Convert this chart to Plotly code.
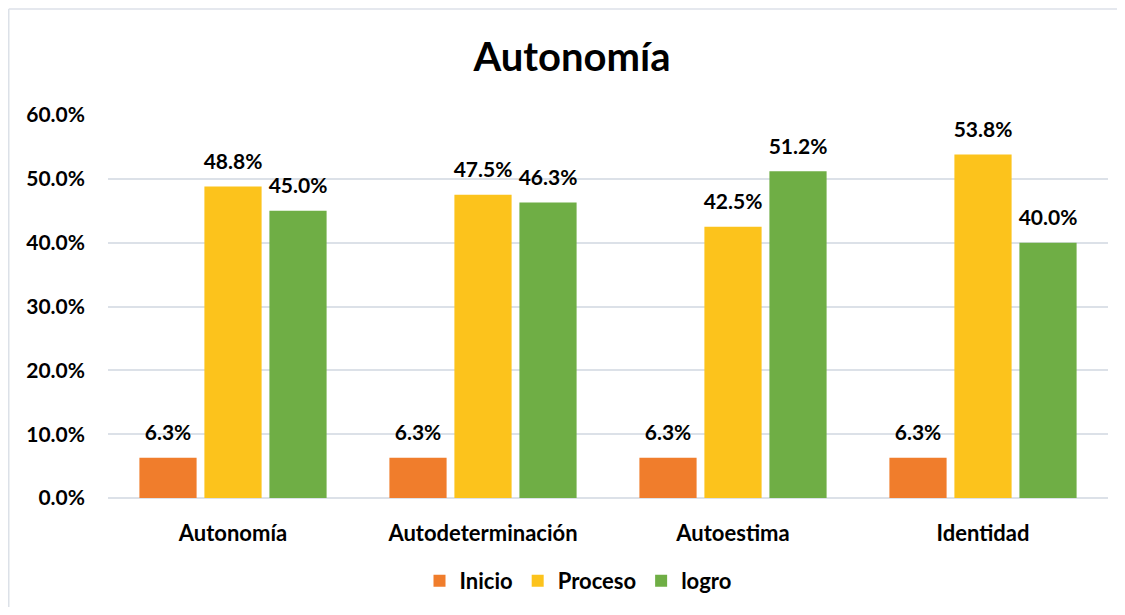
import plotly.graph_objects as go

categories = ["Autonomía", "Autodeterminación", "Autoestima", "Identidad"]
inicio = [0.063, 0.063, 0.063, 0.063]
proceso = [0.488, 0.475, 0.425, 0.538]
logro = [0.450, 0.463, 0.512, 0.400]
series_names = ["Inicio", "Proceso", "logro"]
series_colors = ["#F07D2C", "#FCC31C", "#6FAE45"]
y_ticks = [0, 0.1, 0.2, 0.3, 0.4, 0.5, 0.6]

FONT = "Lato, 'Open Sans', sans-serif"
OFF = 8  # page body margin
W, H = 1125 - 2 * OFF, 615 - 2 * OFF
ML = 108 - OFF
MR = W - (1108 - OFF)
MT = 115 - OFF
MB = H - (498 - OFF)

fig = go.Figure()
for name, vals, col in zip(series_names, [inicio, proceso, logro], series_colors):
    fig.add_trace(go.Bar(
        name=name, x=categories, y=vals, offsetgroup=name,
        marker=dict(color=col, line=dict(width=0)),
        hoverinfo="skip",
    ))
for name, vals in zip(series_names, [inicio, proceso, logro]):
    fig.add_trace(go.Scatter(
        x=categories, y=vals, offsetgroup=name, mode="markers+text",
        marker=dict(size=18, opacity=0),
        text=[f"<b>{v:.1%}</b>" for v in vals], textposition="top center",
        textfont=dict(family=FONT, size=21, color="#000000", weight="bold"),
        showlegend=False, cliponaxis=False, hoverinfo="skip",
    ))

pw = W - ML - MR
ph = H - MT - MB
bx0 = (0.75 - ML) / pw
by1 = (H - MB - (9 - OFF)) / ph
fig.add_shape(type="line", xref="paper", yref="paper",
              x0=bx0, x1=bx0, y0=(-MB) / ph, y1=by1,
              line=dict(color="#DCE1E8", width=1.5), layer="below")
fig.add_shape(type="line", xref="paper", yref="paper",
              x0=bx0, x1=(W - ML) / pw, y0=by1, y1=by1,
              line=dict(color="#DCE1E8", width=1.5), layer="below")

fig.update_layout(
    width=W, height=H,
    margin=dict(l=ML, r=MR, t=MT, b=MB),
    paper_bgcolor="white", plot_bgcolor="white",
    barmode="group", bargap=0.22, bargroupgap=0.12,
    scattermode="group", scattergap=0.22,
    title=dict(text="<b>Autonomía</b>", x=(572 - OFF) / W, xref="container", xanchor="center",
               y=1 - (57 - OFF) / H, yref="container", yanchor="middle",
               font=dict(family=FONT, size=40, color="#000000")),
    legend=dict(orientation="h", x=(578 - OFF) / W, xref="container", xanchor="center",
                y=1 - (581 - OFF) / H, yref="container", yanchor="middle",
                font=dict(family=FONT, size=22, color="#000000", weight="bold"),
                itemwidth=30, traceorder="normal"),
    font=dict(family=FONT, color="#000000"),
)
fig.update_xaxes(showline=False, showgrid=False, ticks="", ticklabelstandoff=20,
                 tickfont=dict(family=FONT, size=22, color="#000000", weight="bold"))
fig.update_yaxes(range=[0, 0.6], tickvals=y_ticks, tickformat=".1%",
                 showgrid=True, gridcolor="#DCE1E8", gridwidth=1.5,
                 zeroline=True, zerolinecolor="#DCE1E8", zerolinewidth=1.5,
                 showline=False, ticks="", ticklabelstandoff=22,
                 tickfont=dict(family=FONT, size=21, color="#000000", weight="bold"))

fig.write_html("out.html")
